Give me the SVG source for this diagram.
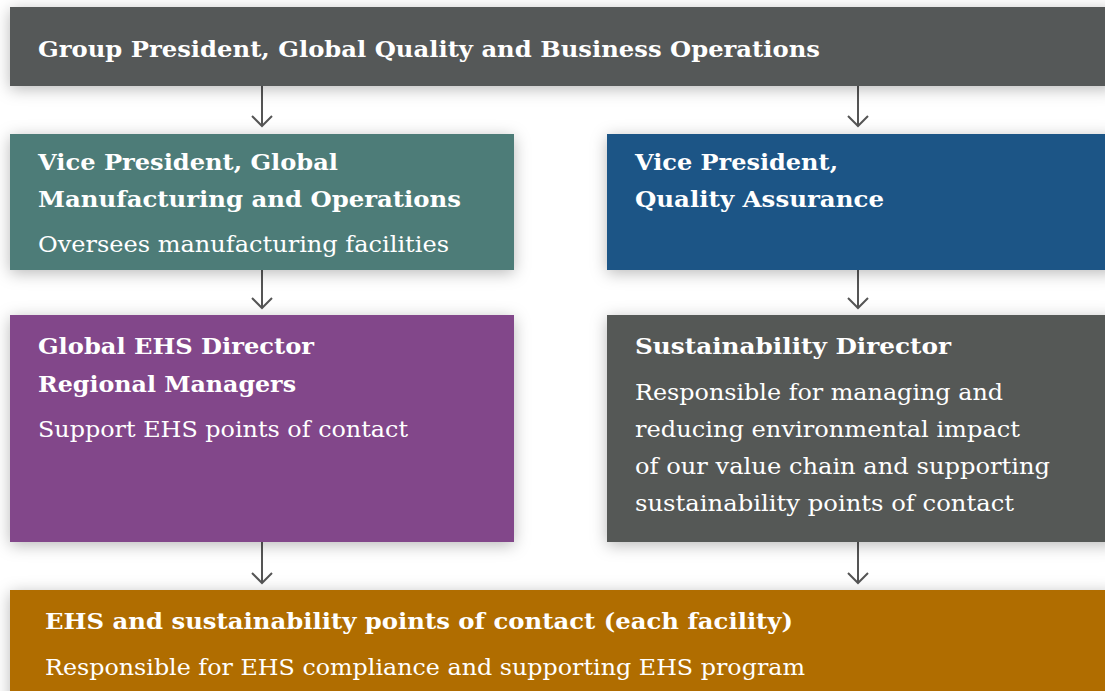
<svg xmlns="http://www.w3.org/2000/svg" width="1105" height="691" viewBox="0 0 1105 691">
<defs>
<filter id="sh" x="-15%" y="-30%" width="130%" height="160%">
<feDropShadow dx="0" dy="3" stdDeviation="8" flood-color="#000" flood-opacity="0.28"/>
</filter>
</defs>
<style>
.b{font-family:"DejaVu Serif","Liberation Serif",serif;font-weight:bold;font-size:22px;fill:#fff}
.r{font-family:"DejaVu Serif","Liberation Serif",serif;font-size:22px;fill:#fff}
.c{stroke:#555;stroke-width:2;fill:none}
</style>
<rect width="1105" height="691" fill="#fff"/>
<g id="connectors">
<path class="c" d="M262,86 V126 M252,116 L262,126 L272,116"/>
<path class="c" d="M858,86 V126 M848,116 L858,126 L868,116"/>
<path class="c" d="M262,270 V308 M252,298 L262,308 L272,298"/>
<path class="c" d="M858,270 V308 M848,298 L858,308 L868,298"/>
<path class="c" d="M262,542 V583 M252,573 L262,583 L272,573"/>
<path class="c" d="M858,542 V583 M848,573 L858,583 L868,573"/>
</g>
<g id="group-president">
<rect x="10" y="7" width="1105" height="79" fill="#555958" filter="url(#sh)"/>
<text class="b" x="38" y="57" textLength="782" lengthAdjust="spacingAndGlyphs">Group President, Global Quality and Business Operations</text>
</g>
<g id="vp-manufacturing">
<rect x="10" y="134" width="504" height="136" fill="#4e7c78" filter="url(#sh)"/>
<text class="b" x="38" y="170" textLength="300" lengthAdjust="spacingAndGlyphs">Vice President, Global</text>
<text class="b" x="38" y="207" textLength="423" lengthAdjust="spacingAndGlyphs">Manufacturing and Operations</text>
<text class="r" x="38" y="252" textLength="411" lengthAdjust="spacingAndGlyphs">Oversees manufacturing facilities</text>
</g>
<g id="vp-quality">
<rect x="607" y="134" width="510" height="136" fill="#1f5586" filter="url(#sh)"/>
<text class="b" x="635" y="170" textLength="203" lengthAdjust="spacingAndGlyphs">Vice President,</text>
<text class="b" x="635" y="207" textLength="249" lengthAdjust="spacingAndGlyphs">Quality Assurance</text>
</g>
<g id="ehs-director">
<rect x="10" y="315" width="504" height="227" fill="#82478a" filter="url(#sh)"/>
<text class="b" x="38" y="354" textLength="276" lengthAdjust="spacingAndGlyphs">Global EHS Director</text>
<text class="b" x="38" y="392" textLength="258" lengthAdjust="spacingAndGlyphs">Regional Managers</text>
<text class="r" x="38" y="437" textLength="370" lengthAdjust="spacingAndGlyphs">Support EHS points of contact</text>
</g>
<g id="sustainability-director">
<rect x="607" y="315" width="510" height="227" fill="#545857" filter="url(#sh)"/>
<text class="b" x="635" y="354" textLength="316" lengthAdjust="spacingAndGlyphs">Sustainability Director</text>
<text class="r" x="635" y="400" textLength="368" lengthAdjust="spacingAndGlyphs">Responsible for managing and</text>
<text class="r" x="635" y="437" textLength="385" lengthAdjust="spacingAndGlyphs">reducing environmental impact</text>
<text class="r" x="635" y="474" textLength="415" lengthAdjust="spacingAndGlyphs">of our value chain and supporting</text>
<text class="r" x="635" y="511" textLength="379" lengthAdjust="spacingAndGlyphs">sustainability points of contact</text>
</g>
<g id="points-of-contact">
<rect x="10" y="590" width="1105" height="120" fill="#b06d02" filter="url(#sh)"/>
<text class="b" x="45" y="629" textLength="748" lengthAdjust="spacingAndGlyphs">EHS and sustainability points of contact (each facility)</text>
<text class="r" x="45" y="675" textLength="760" lengthAdjust="spacingAndGlyphs">Responsible for EHS compliance and supporting EHS program</text>
</g>
</svg>
